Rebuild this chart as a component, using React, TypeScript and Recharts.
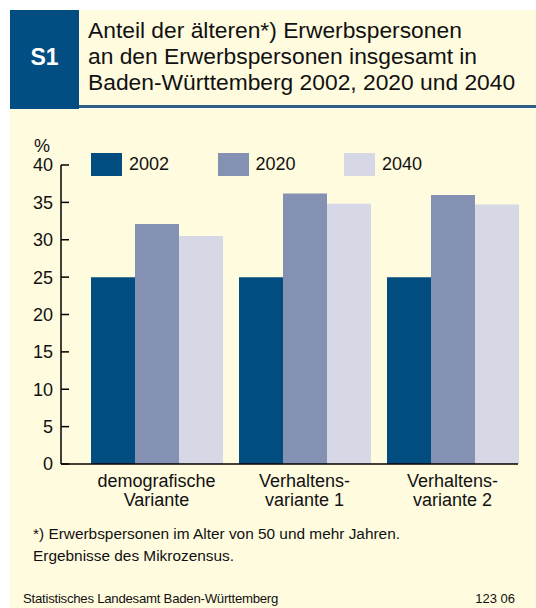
import { BarChart, Bar, XAxis, YAxis, Legend } from "recharts"

const categories = ["demografische|Variante", "Verhaltens-|variante 1", "Verhaltens-|variante 2"]
const values2002 = [25.0, 25.0, 25.0]
const values2020 = [32.1, 36.2, 36.0]
const values2040 = [30.5, 34.8, 34.7]
const yTicks = [0, 5, 10, 15, 20, 25, 30, 35, 40]

const data = categories.map((name, i) => ({
  name,
  y2002: values2002[i],
  y2020: values2020[i],
  y2040: values2040[i],
}))

const FONT = "'Liberation Sans', Arial, Helvetica, sans-serif"
const BG = "#FFFBDF"

function CategoryTick(props: any) {
  const { x, y, payload } = props
  const lines = String(payload.value).split("|")
  return (
    <text x={x} y={y} textAnchor="middle" fontSize={18} fill="#111" fontFamily={FONT}>
      {lines.map((l, i) => (
        <tspan key={i} x={x} dy={i === 0 ? 23 : 18.5}>
          {l}
        </tspan>
      ))}
    </text>
  )
}

function LegendBox(props: any) {
  const items = props.payload || []
  return (
    <div style={{ display: "flex", marginLeft: 91 }}>
      {items.map((it: any) => (
        <div key={it.value} style={{ display: "flex", alignItems: "center", width: 126.5 }}>
          <div style={{ width: 31, height: 23, background: it.color }} />
          <span style={{ marginLeft: 7, fontSize: 18, fontFamily: FONT, color: "#111" }}>{it.value}</span>
        </div>
      ))}
    </div>
  )
}

export default function App() {
  return (
    <div style={{ position: "absolute", left: 0, top: 0, width: 536, height: 608, background: "#fff", fontFamily: FONT, overflow: "hidden" }}>
      {/* header */}
      <div style={{ position: "absolute", left: 10, top: 10, width: 69, height: 99, background: "#024E82" }} />
      <div style={{ position: "absolute", left: 10, top: 44, width: 69, textAlign: "center", color: "#fff", fontWeight: "bold", fontSize: 23 }}>S1</div>
      <div style={{ position: "absolute", left: 79, top: 10, width: 457, height: 95, background: BG }} />
      <div style={{ position: "absolute", left: 79, top: 105, width: 457, height: 3, background: "#2F5F86" }} />
      <div style={{ position: "absolute", left: 88, top: 17, fontSize: 22.8, lineHeight: "26px", color: "#111" }}>
        Anteil der älteren*) Erwerbspersonen
        <br />
        an den Erwerbspersonen insgesamt in
        <br />
        Baden-Württemberg 2002, 2020 und 2040
      </div>
      {/* body */}
      <div style={{ position: "absolute", left: 10, top: 109, width: 526, height: 499, background: BG }} />
      <div style={{ position: "absolute", left: 34, top: 136, fontSize: 18, color: "#111" }}>%</div>
      <div style={{ position: "absolute", left: 0, top: 117 }}>
        <BarChart
          width={536}
          height={400}
          data={data}
          margin={{ top: 48, right: 18, left: 0, bottom: 23 }}
          barCategoryGap={8.5}
          barGap={0}
        >
          <XAxis
            dataKey="name"
            height={30}
            tickLine={false}
            tickSize={0}
            tickMargin={0}
            axisLine={{ stroke: "#000", strokeWidth: 1.5 }}
            tick={<CategoryTick />}
            padding={{ left: 21.5, right: -8.5 }}
            interval={0}
          />
          <YAxis
            width={61}
            domain={[0, 40]}
            ticks={yTicks}
            interval={0}
            tickSize={-8}
            tickMargin={16}
            axisLine={{ stroke: "#000", strokeWidth: 1.5 }}
            tickLine={{ stroke: "#000", strokeWidth: 1.5 }}
            tick={{ fontSize: 18, fill: "#111", fontFamily: FONT }}
          />
          <Legend
            verticalAlign="middle"
            content={<LegendBox />}
            wrapperStyle={{ position: "absolute", top: 36, left: 0, width: 536 }}
          />
          <Bar dataKey="y2002" name="2002" fill="#024D7F" isAnimationActive={false} />
          <Bar dataKey="y2020" name="2020" fill="#8591B3" isAnimationActive={false} />
          <Bar dataKey="y2040" name="2040" fill="#D7D8E6" isAnimationActive={false} />
        </BarChart>
      </div>
      {/* notes */}
      <div style={{ position: "absolute", left: 33, top: 523, fontSize: 15.4, lineHeight: "22px", color: "#111" }}>
        *) Erwerbspersonen im Alter von 50 und mehr Jahren.
        <br />
        Ergebnisse des Mikrozensus.
      </div>
      <div style={{ position: "absolute", left: 23, top: 591, fontSize: 13.2, letterSpacing: -0.25, color: "#111" }}>
        Statistisches Landesamt Baden-Württemberg
      </div>
      <div style={{ position: "absolute", right: 21, top: 591, fontSize: 13, color: "#111" }}>123 06</div>
    </div>
  )
}
